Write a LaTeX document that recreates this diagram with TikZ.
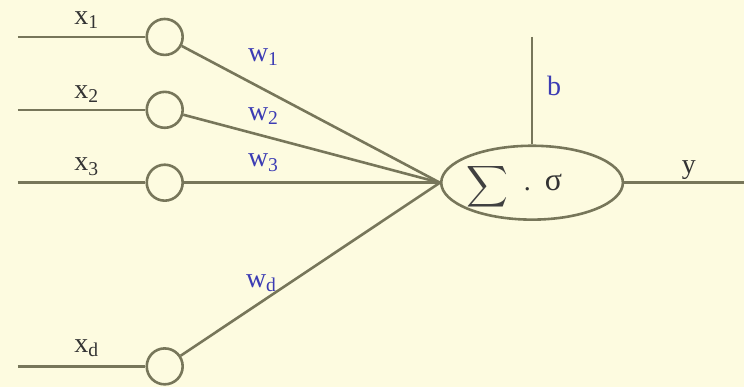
\documentclass[tikz,border=0pt]{standalone}
\usepackage{fontspec}
\setmainfont{Liberation Serif}
\usetikzlibrary{shapes.geometric}

\definecolor{paper}{HTML}{FDFBE0}
\definecolor{wire}{HTML}{77765A}
\definecolor{wblue}{HTML}{3C3CB4}

\tikzset{
  wire/.style={draw=wire, line width=1.3pt},
  unit/.style={circle, draw=wire, line width=1.3pt, fill=paper, minimum size=18pt, inner sep=0pt},
  sumnode/.style={ellipse, draw=wire, line width=1.3pt, minimum width=91pt, minimum height=37pt, inner sep=0pt},
  inlabel/.style={font=\fontsize{14}{16}\selectfont, text=black!80},
  wlabel/.style={font=\fontsize{14}{16}\selectfont, text=wblue}
}

\begin{document}
\begin{tikzpicture}[x=0.5pt, y=-0.5pt]
    \fill[paper] (0,0) rectangle (745,388);

    % input units
    \node[unit] (u1) at (165,37) {};
    \node[unit] (u2) at (165,110) {};
    \node[unit] (u3) at (165,183) {};
    \node[unit] (ud) at (165,367) {};

    \coordinate (s1) at (18,37);
    \coordinate (s2) at (18,110);
    \coordinate (s3) at (18,183);
    \coordinate (sd) at (18,367);

    % summing unit
    \node[sumnode] (sum) at (533,183) {};
    \node[text=black!75, scale=1.45] (sig) at (488,187) {\fontsize{17}{20}\selectfont$\displaystyle\sum$};
    \node[inlabel] (op) at (544,183) {.\hspace{7pt}{\fontsize{16}{18}\selectfont σ}};
    \coordinate (btop) at (533,37);
    \coordinate (yend) at (745,183);

    \draw[wire] (s1) -- (u1);
    \draw[wire] (s2) -- (u2);
    \draw[wire] (s3) -- (u3);
    \draw[wire] (sd) -- (ud);

    \draw[wire] (u1) -- (sum.west);
    \draw[wire] (u2) -- (sum.west);
    \draw[wire] (u3) -- (sum.west);
    \draw[wire] (ud) -- (sum.west);

    \draw[wire] (btop) -- (sum.north);
    \draw[wire] (sum.east) -- (yend);

    % labels
    \node[inlabel] (lx1) at (87,20) {x\textsubscript{1}};
    \node[inlabel] (lx2) at (87,94) {x\textsubscript{2}};
    \node[inlabel] (lx3) at (87,167) {x\textsubscript{3}};
    \node[inlabel] (lxd) at (87,349) {x\textsubscript{d}};

    \node[wlabel] (lw1) at (264,57) {w\textsubscript{1}};
    \node[wlabel] (lw2) at (264,116) {w\textsubscript{2}};
    \node[wlabel] (lw3) at (264,163) {w\textsubscript{3}};
    \node[wlabel] (lwd) at (262,284) {w\textsubscript{d}};

    \node[wlabel] (lb) at (555,86) {b};
    \node[inlabel] (ly) at (690,170) {y};
\end{tikzpicture}
\end{document}
